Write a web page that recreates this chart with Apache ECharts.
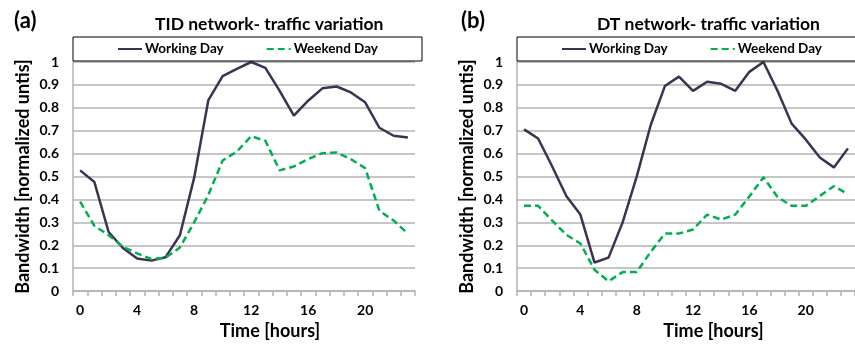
<!DOCTYPE html>
<html>
<head>
<meta charset="utf-8">
<script src="https://cdn.jsdelivr.net/npm/echarts@6/dist/echarts.min.js"></script>
<style>
  html, body { margin: 0; padding: 0; background: #fff; }
  #chart { width: 855px; height: 345px; }
</style>
</head>
<body>
<div id="chart"></div>
<script>
// hours of the day (categories)
const hours = ['0','1','2','3','4','5','6','7','8','9','10','11','12','13','14','15','16','17','18','19','20','21','22','23']

// (a) TID network
const tidWorking = [0.527, 0.476, 0.258, 0.188, 0.142, 0.133, 0.148, 0.244, 0.494, 0.834, 0.938, 0.97, 1.0, 0.974, 0.874, 0.766, 0.831, 0.885, 0.893, 0.867, 0.824, 0.713, 0.678, 0.67]
const tidWeekend = [0.391, 0.285, 0.244, 0.193, 0.165, 0.14, 0.146, 0.19, 0.3, 0.42, 0.57, 0.609, 0.676, 0.656, 0.527, 0.544, 0.576, 0.602, 0.605, 0.576, 0.537, 0.351, 0.308, 0.251]

// (b) DT network
const dtWorking = [0.706, 0.666, 0.544, 0.415, 0.334, 0.125, 0.146, 0.3, 0.5, 0.726, 0.895, 0.936, 0.874, 0.914, 0.905, 0.874, 0.957, 1.0, 0.874, 0.731, 0.662, 0.583, 0.54, 0.623]
const dtWeekend = [0.372, 0.372, 0.308, 0.246, 0.208, 0.093, 0.043, 0.083, 0.083, 0.172, 0.251, 0.251, 0.269, 0.334, 0.312, 0.334, 0.413, 0.497, 0.411, 0.372, 0.372, 0.415, 0.458, 0.423]

const FONT = 'Lato'
const WORK_COLOR = '#3f3151'
const WEEKEND_COLOR = '#00b050'
const GRID_COLOR = '#b3b3b3'

const chart = echarts.init(document.getElementById('chart'))

function xAxisFor(gridIndex, shift) {
  return {
    type: 'category',
    gridIndex,
    data: hours,
    boundaryGap: true,
    name: 'Time [hours]',
    nameLocation: 'middle',
    nameGap: 28,
    // the axis title sits a little right of the axis centre in the original
    nameTextStyle: { fontFamily: FONT, fontWeight: 'bold', fontSize: 18, color: '#000', padding: [0, 0, 0, shift] },
    axisLine: { lineStyle: { color: GRID_COLOR, width: 1.5 } },
    axisTick: { show: true, interval: 0, length: 5, lineStyle: { color: GRID_COLOR, width: 1.5 } },
    axisLabel: { interval: 3, margin: 12, fontFamily: FONT, fontWeight: 'bold', fontSize: 14, color: '#000' },
    splitLine: { show: false }
  }
}

function yAxisFor(gridIndex) {
  return {
    type: 'value',
    gridIndex,
    min: 0,
    max: 1,
    interval: 0.1,
    name: 'Bandwidth [normalized untis]',
    nameLocation: 'middle',
    nameGap: 41,
    nameTextStyle: { fontFamily: FONT, fontWeight: 'bold', fontSize: 18, color: '#000' },
    axisLine: { show: true, lineStyle: { color: GRID_COLOR, width: 1.5 } },
    axisTick: { show: false },
    axisLabel: { margin: 14, fontFamily: FONT, fontWeight: 'bold', fontSize: 14, color: '#000' },
    splitLine: { show: true, lineStyle: { color: GRID_COLOR, width: 1.5 } }
  }
}

function legendFor(left) {
  return {
    left,
    top: 37,
    width: 600,
    orient: 'horizontal',
    padding: [5, 44, 5, 44],
    borderColor: '#000',
    borderWidth: 1,
    itemGap: 42,
    itemWidth: 24,
    itemHeight: 14,
    itemStyle: { opacity: 0 },
    textStyle: { fontFamily: FONT, fontWeight: 'bold', fontSize: 13.5, color: '#000', padding: [0, 0, 0, -2] },
    data: ['Working Day', 'Weekend Day']
  }
}

function lineSeries(name, data, idx, color, dashed) {
  return {
    name,
    type: 'line',
    xAxisIndex: idx,
    yAxisIndex: idx,
    data,
    symbol: 'none',
    smooth: false,
    lineStyle: { color, width: 2.5, type: dashed ? [7, 4] : 'solid' },
    itemStyle: { color }
  }
}

chart.setOption({
  animation: false,
  title: [
    { text: '(a)', left: 9, top: 5, textStyle: { fontFamily: FONT, fontWeight: 'bold', fontSize: 22, color: '#000' } },
    { text: 'TID network- traffic variation', left: 150, top: 10, textStyle: { fontFamily: FONT, fontWeight: 'bold', fontSize: 17.5, color: '#000' } },
    { text: '(b)', left: 456, top: 5, textStyle: { fontFamily: FONT, fontWeight: 'bold', fontSize: 22, color: '#000' } },
    { text: 'DT network- traffic variation', left: 592, top: 10, textStyle: { fontFamily: FONT, fontWeight: 'bold', fontSize: 17.5, color: '#000' } }
  ],
  legend: [legendFor(73), legendFor(517)],
  grid: [
    { left: 73, top: 62, width: 342, height: 233 },
    { left: 517, top: 62, width: 341, height: 233 }
  ],
  xAxis: [xAxisFor(0, 52), xAxisFor(1, 55)],
  yAxis: [yAxisFor(0), yAxisFor(1)],
  series: [
    lineSeries('Working Day', tidWorking, 0, WORK_COLOR, false),
    lineSeries('Weekend Day', tidWeekend, 0, WEEKEND_COLOR, true),
    lineSeries('Working Day', dtWorking, 1, WORK_COLOR, false),
    lineSeries('Weekend Day', dtWeekend, 1, WEEKEND_COLOR, true)
  ]
})
</script>
</body>
</html>
